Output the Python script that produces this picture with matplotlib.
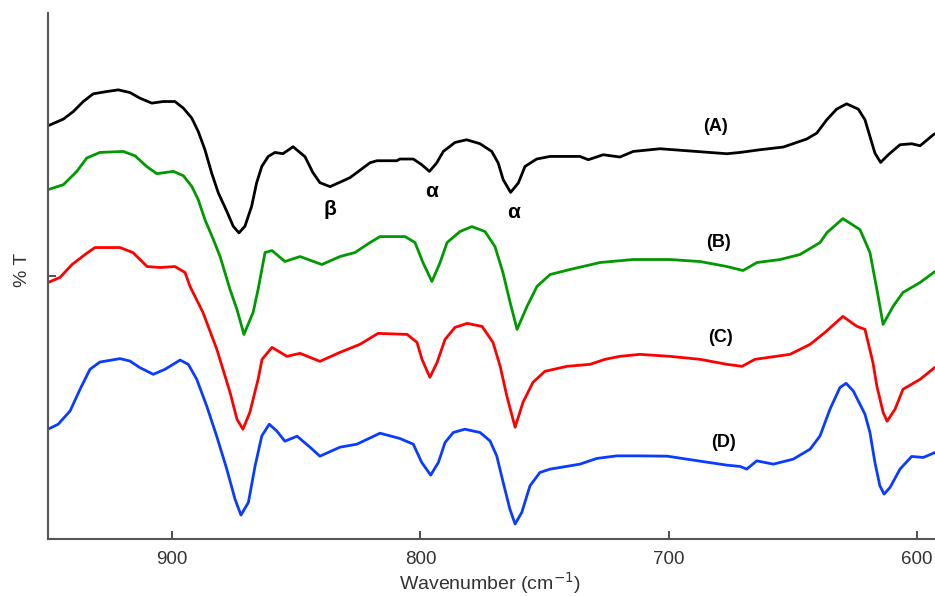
import matplotlib
matplotlib.use("Agg")
import matplotlib.pyplot as plt

plt.rcParams['font.family'] = ['Liberation Sans', 'DejaVu Sans']

# spectrum A (black)
wn_a = [950.0, 943.8, 939.8, 935.8, 931.8, 926.4, 921.7, 917.0, 913.0, 908.2, 903.6, 898.9,
        895.5, 892.1, 889.5, 886.8, 884.1, 881.4, 878.0, 875.4, 873.1, 870.7, 868.0, 866.0,
        863.9, 861.3, 858.6, 855.4, 851.3, 846.5, 843.3, 840.5, 836.4, 828.4, 820.3, 817.5,
        809.5, 808.3, 802.9, 799.5, 796.4, 793.5, 790.8, 786.1, 781.4, 776.0, 771.3, 768.7,
        766.7, 763.7, 760.6, 757.9, 753.2, 747.8, 735.8, 732.4, 726.4, 719.7, 714.3, 703.5,
        687.4, 676.6, 671.3, 663.3, 653.9, 644.5, 640.4, 636.4, 632.4, 628.4, 623.7, 621.0,
        619.0, 617.0, 614.7, 611.6, 606.9, 602.2, 598.8, 593.5, 592.8]
t_a = [414, 420.7, 428.3, 438.3, 446, 448.3, 450, 447.3, 441.7, 436.7, 438.3, 438.3,
       431.7, 421.7, 408.3, 390, 366.7, 346.7, 328.3, 313.3, 306.7, 313.3, 333.3, 356.7,
       373.3, 383.3, 387.3, 386, 393, 383, 367, 357, 353, 362, 377, 379,
       379, 380.7, 380.7, 375, 368.3, 376.7, 388.3, 397.3, 400, 396, 388.3, 376.7,
       360, 347.3, 356.7, 373.3, 380.7, 383.3, 383.3, 380, 385, 382.7, 388.3, 391,
       388, 386, 387.3, 390, 392.7, 400.7, 406.7, 420, 430.7, 436, 430.7, 420,
       403.3, 386.7, 377.3, 385, 395, 396, 394, 405, 406]

# spectrum B (green)
wn_b = [950.0, 943.8, 938.4, 934.4, 929.1, 919.7, 915.0, 910.3, 906.2, 899.5, 895.5, 892.1,
        889.5, 886.8, 883.4, 880.7, 876.7, 873.9, 871.1, 867.4, 865.4, 862.6, 859.8, 854.6,
        848.5, 839.7, 832.4, 826.4, 820.3, 816.3, 806.2, 802.2, 799.0, 795.4, 792.1, 789.3,
        784.1, 779.3, 774.0, 770.0, 766.8, 763.9, 761.1, 757.1, 753.1, 747.8, 739.8, 727.7,
        714.4, 699.5, 687.4, 676.6, 670.1, 664.5, 655.2, 647.2, 639.1, 636.3, 629.9, 623.0,
        619.0, 616.2, 613.7, 609.7, 605.7, 598.8, 592.8]
t_b = [350, 355, 368.3, 381.7, 387.3, 388.3, 384, 373.3, 366, 368.3, 364, 353.3,
       340, 320, 300, 283, 250, 230, 205, 227, 250, 287, 289, 278,
       283, 275, 283, 287, 297, 303, 303, 297, 277, 258, 277, 297,
       308, 313, 308, 293, 267, 237, 210, 233, 253, 265, 270, 277,
       280, 280, 278, 273, 269, 277, 280, 285, 297, 307, 321, 310,
       287, 250, 215, 233, 247, 257, 268]

# spectrum C (red)
wn_c = [950, 945.2, 940.3, 935.1, 931.1, 921, 915.8, 910.1, 904.9, 898.9, 894.8, 892.8,
        887.6, 882, 876.7, 873.9, 871.5, 868.7, 865.4, 863.8, 859.8, 853.8, 848.5, 840.5,
        832.4, 824.4, 817.1, 805.4, 801.4, 799.4, 796.2, 793.3, 790.1, 786.1, 781.2, 775.2,
        770.8, 767.9, 765.2, 761.9, 758.7, 754.7, 749.9, 741, 731.7, 725.7, 719.7, 711.6,
        699.5, 687.4, 676.6, 670.5, 665.3, 651.2, 643.1, 637.1, 629.9, 624.2, 621, 617.8,
        616.2, 613.7, 612.1, 608.9, 605.7, 598.8, 592.8]
t_c = [257, 262, 275, 285, 292, 292, 287, 273, 272, 273, 267, 253,
       227, 190, 147, 120, 110, 127, 160, 180, 192, 183, 186, 178,
       187, 195, 206, 205, 197, 180, 162, 177, 200, 212, 216, 213,
       197, 173, 143, 112, 137, 157, 168, 173, 175, 180, 183, 185,
       183, 180, 175, 173, 180, 185, 195, 207, 223, 213, 210, 177,
       153, 127, 118, 130, 150, 160, 172]

# spectrum D (blue)
wn_d = [950.0, 945.9, 941.1, 937.1, 933.1, 929.1, 921.0, 917.0, 913.0, 907.6, 902.9, 896.8,
        893.5, 890.1, 886.1, 882.1, 878.0, 874.7, 872.3, 869.3, 866.6, 863.9, 860.9, 857.9,
        854.6, 849.7, 844.5, 840.5, 832.4, 825.6, 816.3, 808.3, 802.9, 799.5, 795.9, 792.8,
        790.1, 786.8, 782.1, 776.0, 772.0, 769.3, 766.7, 764.0, 761.9, 759.2, 755.9, 751.9,
        747.8, 735.8, 729.0, 721.0, 711.6, 700.7, 687.4, 676.6, 671.3, 668.6, 664.6, 657.9,
        649.9, 643.1, 639.1, 635.1, 631.1, 628.6, 625.7, 621.0, 619.0, 617.0, 615.0, 613.3,
        610.9, 606.9, 602.2, 597.5, 592.8]
t_d = [110, 115, 128.3, 150, 170, 177.3, 180.7, 178.3, 171.7, 165, 170, 179.3,
       175, 160, 133.3, 103.3, 70, 40, 24, 36.7, 73.3, 103.3, 115, 108.3,
       98, 103, 92, 83, 92, 95, 106, 100.7, 95, 76.7, 64, 76.7,
       96.7, 106.7, 110, 106.7, 98.3, 83.3, 56.7, 30, 15, 26.7, 53.3, 66.7,
       70, 75, 80.7, 83.3, 83.3, 83, 78, 74, 72.7, 70, 78.3, 75,
       80, 90, 103.3, 130, 151.7, 156, 148.3, 125, 106.7, 76.7, 53.3, 45,
       51.7, 70, 82.7, 81.7, 86.7]

series = [(wn_a, t_a, 'black', '(A)', 681, 413),
          (wn_b, t_b, '#009900', '(B)', 680, 297),
          (wn_c, t_c, '#ff0000', '(C)', 679, 202),
          (wn_d, t_d, '#0a3cff', '(D)', 678, 97)]

fig = plt.figure(figsize=(9.35, 5.96), dpi=100)
ax = fig.add_axes([48 / 935, 57 / 596, 887 / 935, 526 / 596])

for wn, t, col, lab, lx, ly in series:
    ax.plot(wn, t, color=col, lw=2.0, solid_joinstyle='round')
    ax.text(lx, ly, lab, fontsize=13, fontweight='bold', ha='center', va='center')

# band assignments on spectrum A
ax.text(836.4, 330, 'β', fontsize=15, fontweight='bold', ha='center', va='center')
ax.text(795.4, 348, 'α', fontsize=15, fontweight='bold', ha='center', va='center')
ax.text(762.7, 327, 'α', fontsize=15, fontweight='bold', ha='center', va='center')

ax.set_xlim(950, 592.8)
ax.set_ylim(0, 527)
ax.set_xticks([900, 800, 700, 600])
ax.set_yticks([264])
ax.set_yticklabels([''])
ax.tick_params(direction='in', length=6, width=1.2, color='#333333', labelsize=13.5,
               labelcolor='#333333', pad=9)
for side in ['top', 'right']:
    ax.spines[side].set_visible(False)
for side in ['left', 'bottom']:
    ax.spines[side].set_color('#555555')
    ax.spines[side].set_linewidth(1.5)

ax.set_xlabel('Wavenumber (cm$^{-1}$)', fontsize=14, color='#333333', va='center')
ax.xaxis.set_label_coords(0.498, -0.084)
ax.set_ylabel('% T', fontsize=14, color='#333333', va='center')
ax.yaxis.set_label_coords(-0.029, 0.511)

fig.savefig('out.png', dpi=100)
